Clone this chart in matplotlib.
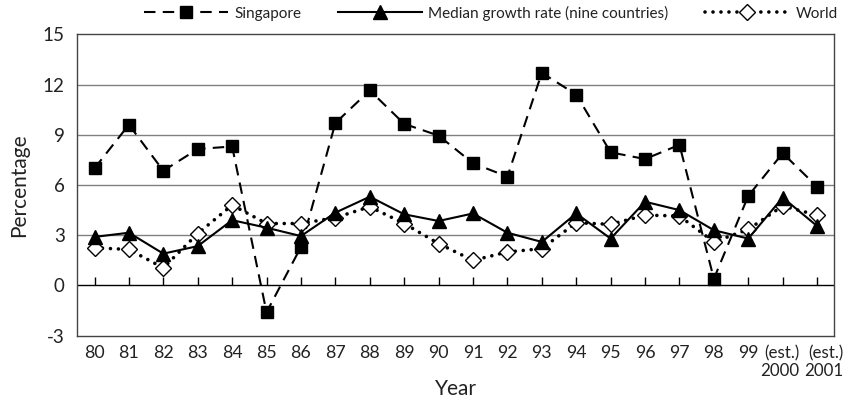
import matplotlib
matplotlib.use("Agg")
import matplotlib.pyplot as plt
import matplotlib.transforms as mtransforms
import numpy as np

years = ["80", "81", "82", "83", "84", "85", "86", "87", "88", "89", "90",
         "91", "92", "93", "94", "95", "96", "97", "98", "99",
         "(est.)\n2000", "(est.)\n2001"]
singapore = [7.0, 9.6, 6.85, 8.15, 8.3, -1.6, 2.3, 9.7, 11.65, 9.65, 8.95,
             7.3, 6.5, 12.7, 11.4, 7.95, 7.55, 8.4, 0.4, 5.35, 7.9, 5.9]
median = [2.9, 3.15, 1.9, 2.35, 3.9, 3.45, 2.95, 4.35, 5.3, 4.25, 3.85,
          4.3, 3.15, 2.6, 4.3, 2.8, 5.0, 4.5, 3.3, 2.8, 5.25, 3.55]
world = [2.25, 2.15, 1.05, 3.1, 4.8, 3.7, 3.7, 4.05, 4.7, 3.7, 2.5,
         1.5, 2.0, 2.2, 3.75, 3.65, 4.2, 4.15, 2.6, 3.35, 4.75, 4.2]
yticks = [-3, 0, 3, 6, 9, 12, 15]

plt.rcParams['font.family'] = ['Lato', 'DejaVu Sans']

fig = plt.figure(figsize=(8.44, 4.01), dpi=100)
W, H = 844, 401
ax = fig.add_axes([77.3 / W, 1 - 335.7 / H, (834.3 - 77.3) / W, (335.7 - 34.3) / H])

x = np.arange(len(years))

for yv in [3, 6, 9, 12]:
    ax.axhline(yv, color='#808080', lw=1.0, zorder=1)
ax.axhline(0, color='black', lw=1.0, zorder=1)

ax.plot(x, singapore, color='black', lw=1.5, dashes=(5.5, 3.5),
        marker='s', markersize=8, markerfacecolor='black', markeredgecolor='black',
        label='Singapore', zorder=3)
ax.plot(x, median, color='black', lw=1.5, linestyle='-',
        marker='^', markersize=10, markerfacecolor='black', markeredgecolor='black',
        label='Median growth rate (nine countries)', zorder=4)
ax.plot(x, world, color='black', lw=2.6, dashes=(0.01, 2.2), dash_capstyle='round',
        marker='D', markersize=8, markerfacecolor='white', markeredgecolor='black',
        markeredgewidth=1.0, label='World', zorder=3)

ax.set_xlim(-0.5, len(years) - 0.5)
ax.set_ylim(-3, 15)
ax.set_yticks(yticks)
ax.set_yticklabels([str(v) for v in yticks])
ax.set_xticks(x)
ax.set_xticklabels(years, linespacing=1.1, multialignment='right')
ax.tick_params(axis='x', length=0, pad=7, labelsize=12.8, colors='#222222')
ax.tick_params(axis='y', length=0, pad=9, labelsize=13.5, colors='#222222')

# nudge the two two-line labels apart as in the reference
offs = {len(years) - 2: -3 / 100, len(years) - 1: 7 / 100}
for i, dx in offs.items():
    lab = ax.get_xticklabels()[i]
    lab.set_fontsize(12.2)
    lab.set_transform(lab.get_transform() +
                      mtransforms.ScaledTranslation(dx, 0, fig.dpi_scale_trans))

for s in ax.spines.values():
    s.set_color('#444444')
    s.set_linewidth(1.0)

sec = ax.secondary_xaxis(1 / 6)
sec.set_xticks(x)
sec.tick_params(axis='x', direction='in', length=6, width=1.0, color='black',
                labelbottom=False, labeltop=False)
sec.spines['bottom'].set_visible(False)
sec.spines['top'].set_visible(False)

ax.set_ylabel('Percentage', fontsize=15, color='#222222', labelpad=10)
ax.set_xlabel('Year', fontsize=15, color='#222222')
ax.xaxis.set_label_coords(0.5, -0.143)

fig.legend(loc='center', bbox_to_anchor=(491 / W, 1 - 13 / H), ncol=3,
           frameon=False, fontsize=11, handlelength=5.5, handletextpad=0.4,
           columnspacing=2.4, numpoints=1, labelcolor='#222222')

fig.savefig('out.png', dpi=100)
